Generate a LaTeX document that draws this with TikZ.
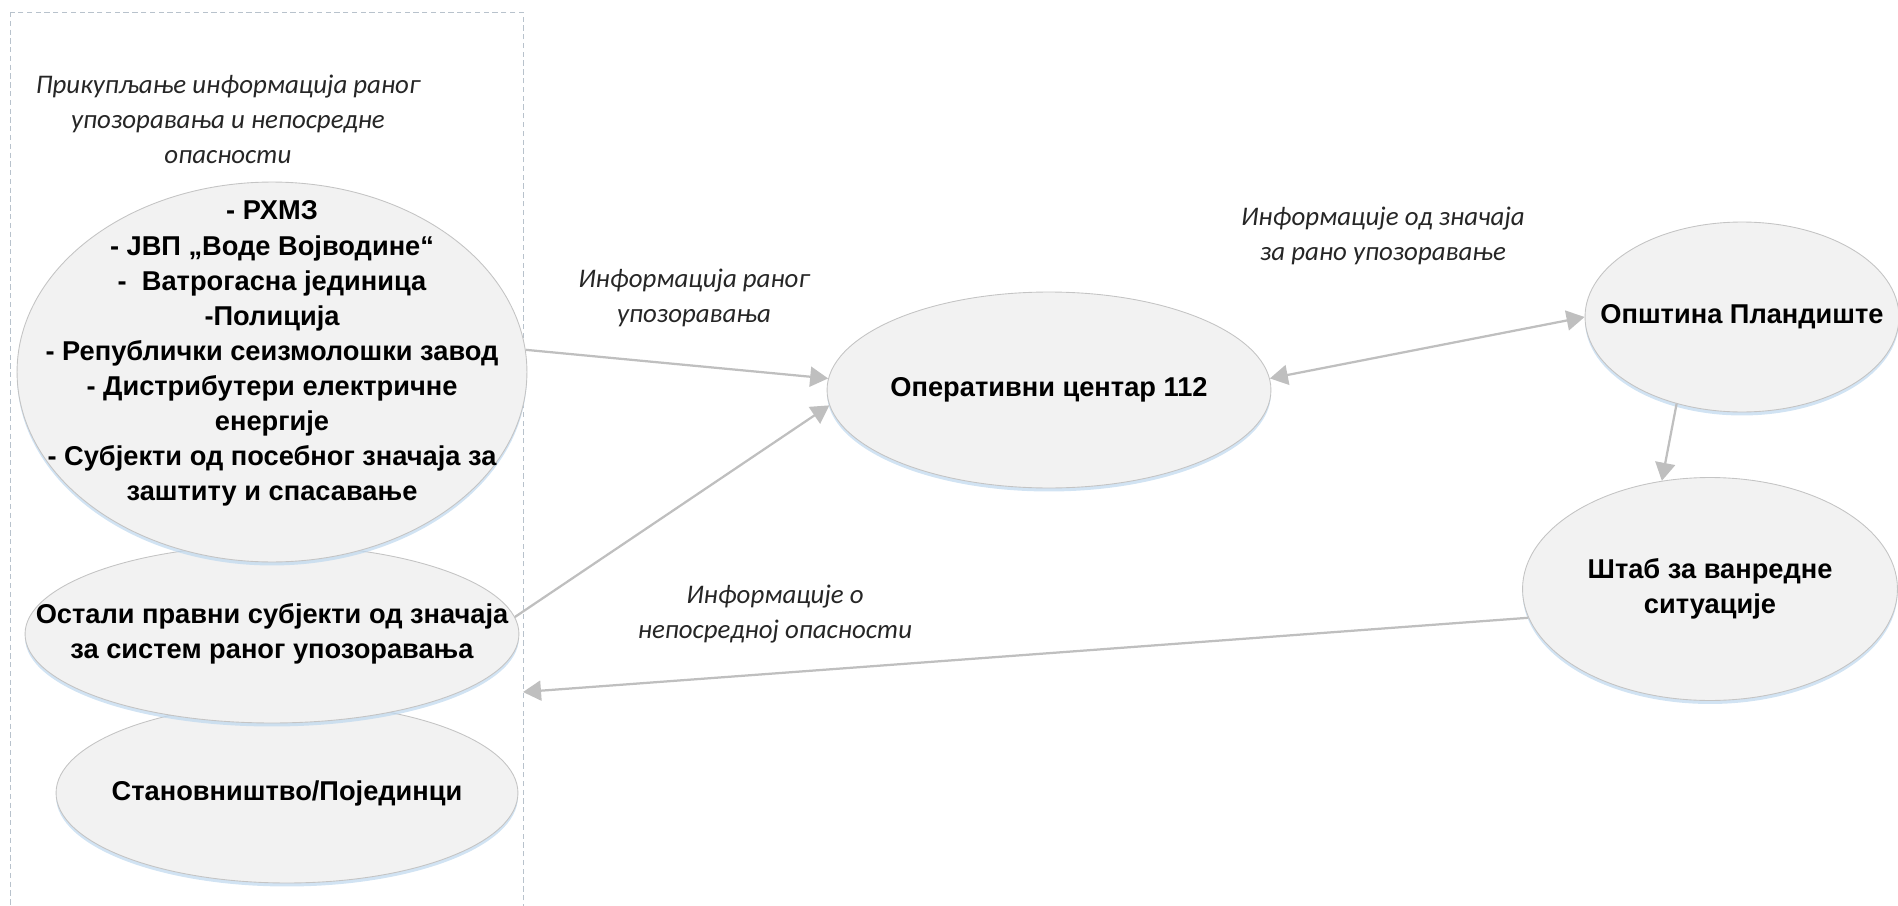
\documentclass[tikz,border=0pt]{standalone}
\usepackage{fontspec}
\setmainfont{Liberation Sans}
\newfontfamily\notefont{Carlito}
\usetikzlibrary{shapes.geometric,arrows.meta,shadows}

\definecolor{bubblefill}{HTML}{F2F2F2}
\definecolor{bubbleedge}{HTML}{C4C4C4}
\definecolor{flowgray}{HTML}{BFBFBF}
\definecolor{glowblue}{HTML}{BDD7EE}
\definecolor{zonegray}{HTML}{B8C2CC}
\definecolor{notegray}{HTML}{262626}

\tikzset{
  bubble/.style={ellipse, draw=bubbleedge, fill=bubblefill, line width=0.5pt,
    inner sep=-3cm, align=center, font=\fontsize{15.5}{20}\selectfont\bfseries,
    drop shadow={shadow xshift=0pt, shadow yshift=-0.07cm, fill=glowblue, opacity=0.7}},
  note/.style={align=center, text=notegray, font={\notefont\itshape\fontsize{15.3}{20}\selectfont}},
  flowtip/.tip={Triangle[length=0.36cm, width=0.4cm]},
  flow/.style={draw=flowgray, line width=0.045cm, -flowtip},
  zone/.style={draw=zonegray, dash pattern=on 3pt off 2pt, line width=0.4pt}
}

\begin{document}
\begin{tikzpicture}[x=0.02cm, y=-0.02cm]
    \useasboundingbox (0,0) rectangle (1898,906);
    \draw [zone] (10,12) rectangle (523,920);
    \coordinate (zoneedge) at (523,692);
    \node [note] (gatherlbl) at (228,119) {Прикупљање информација раног\\упозоравања и непосредне\\опасности};
    % left column, bottom one first so the upper ones overlap it
    \node [bubble, minimum width=9.24cm, minimum height=3.6cm] (people) at (287,793) {Становништво/Појединци};
    \node [bubble, minimum width=9.88cm, minimum height=3.56cm] (other) at (272,634) {Остали правни субјекти од значаја\\за систем раног упозоравања};
    \node [bubble, minimum width=10.2cm, minimum height=7.6cm] (src) at (272,372) {- РХМЗ\\- ЈВП „Воде Војводине“\\-~ Ватрогасна јединица\\-Полиција\\- Републички сеизмолошки завод\\- Дистрибутери електричне\\енергије\\- Субјекти од посебног значаја за\\заштиту и спасавање\\[4pt]\mbox{}};
    % right side
    \node [bubble, minimum width=8.88cm, minimum height=3.92cm] (ops) at (1049,390) {Оперативни центар 112};
    \node [bubble, minimum width=6.28cm, minimum height=3.8cm] (opstina) at (1742,317) {Општина Пландиште};
    \node [bubble, minimum width=7.5cm, minimum height=4.46cm] (stab) at (1710,589) {Штаб за ванредне\\ситуације};
    % flows
    \draw [flow] (src.5) -- (ops.177);
    \draw [flow] (other.4) -- (ops.184);
    \draw [flow, flowtip-flowtip] (ops.3) -- (opstina.west);
    \draw [flow] (opstina.233) -- (stab.114);
    \draw [flow] (stab.189) -- (zoneedge);
    \node [note] (warnlbl) at (694,298) {Информација раног\\упозоравања};
    \node [note] (importlbl) at (1383,236) {Информације од значаја\\за рано упозоравање};
    \node [note] (dangerlbl) at (775,614) {Информације о\\непосредној опасности};
\end{tikzpicture}
\end{document}
